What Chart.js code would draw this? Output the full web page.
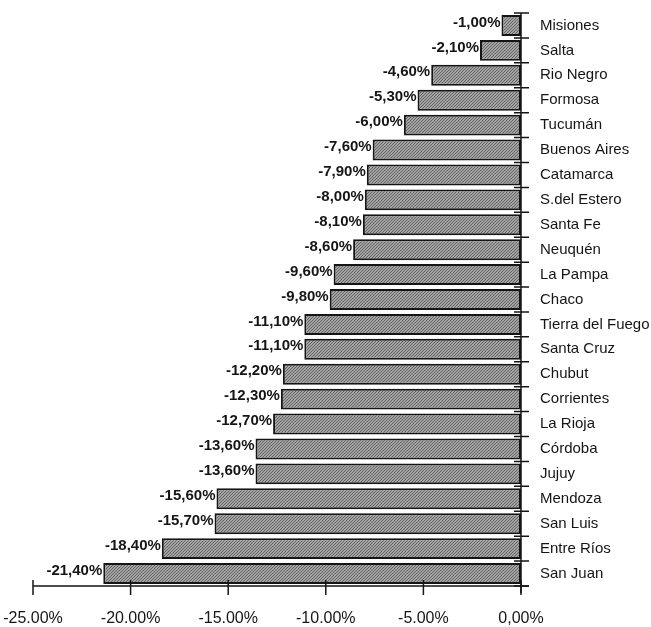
<!DOCTYPE html>
<html>
<head>
<meta charset="utf-8">
<script src="https://cdn.jsdelivr.net/npm/chart.js@4.4.0/dist/chart.umd.min.js"></script>
<style>
  html, body { margin: 0; padding: 0; background: #ffffff; }
  #wrap { width: 651px; height: 627px; position: relative; }
</style>
</head>
<body>
<div id="wrap"><canvas id="c"></canvas></div>
<script>
const provinces = ["Misiones","Salta","Rio Negro","Formosa","Tucumán","Buenos Aires","Catamarca","S.del Estero","Santa Fe","Neuquén","La Pampa","Chaco","Tierra del Fuego","Santa Cruz","Chubut","Corrientes","La Rioja","Córdoba","Jujuy","Mendoza","San Luis","Entre Ríos","San Juan"];
const changes = [-1.00,-2.10,-4.60,-5.30,-6.00,-7.60,-7.90,-8.00,-8.10,-8.60,-9.60,-9.80,-11.10,-11.10,-12.20,-12.30,-12.70,-13.60,-13.60,-15.60,-15.70,-18.40,-21.40];
const tickValues = [-25,-20,-15,-10,-5,0];
const tickLabels = ["-25.00%","-20.00%","-15.00%","-10.00%","-5.00%","0,00%"];

const FONT = "'Liberation Sans', Arial, Helvetica, sans-serif";
const INK = "#151515";

function makeHatch() {
  const p = document.createElement('canvas');
  p.width = 3; p.height = 3;
  const g = p.getContext('2d');
  g.fillStyle = '#a2a2a2';
  g.fillRect(0, 0, 3, 3);
  g.fillStyle = '#666666';
  g.fillRect(0, 2, 1, 1);
  g.fillRect(1, 1, 1, 1);
  g.fillRect(2, 0, 1, 1);
  return g.createPattern(p, 'repeat');
}

function noPad(scale) {
  scale.paddingLeft = 0; scale.paddingRight = 0;
  scale.paddingTop = 0; scale.paddingBottom = 0;
}

const decor = {
  id: 'decor',
  afterDatasetsDraw(chart) {
    const ctx = chart.ctx;
    const xs = chart.scales.x, ys = chart.scales.y;
    const area = chart.chartArea;
    const x0 = xs.getPixelForValue(0);
    const pitch = ys.getPixelForValue(1) - ys.getPixelForValue(0);
    ctx.save();
    ctx.strokeStyle = INK;
    ctx.lineWidth = 1.5;
    ctx.beginPath();
    ctx.moveTo(x0, area.top);
    ctx.lineTo(x0, area.bottom + 7);
    ctx.moveTo(xs.getPixelForValue(-25), area.bottom);
    ctx.lineTo(x0 + 8, area.bottom);
    ctx.stroke();
    ctx.beginPath();
    tickValues.forEach(v => {
      const px = xs.getPixelForValue(v);
      ctx.moveTo(px, area.bottom - 6);
      ctx.lineTo(px, area.bottom + 9);
    });
    for (let i = 0; i <= provinces.length; i++) {
      const py = ys.getPixelForValue(i) - pitch / 2;
      ctx.moveTo(x0 - 7, py);
      ctx.lineTo(x0 + 8, py);
    }
    ctx.stroke();
    const meta = chart.getDatasetMeta(0);
    ctx.fillStyle = INK;
    ctx.font = "bold 15px " + FONT;
    ctx.textAlign = 'right';
    ctx.textBaseline = 'middle';
    meta.data.forEach((bar, i) => {
      const txt = changes[i].toFixed(2).replace('.', ',') + '%';
      ctx.fillText(txt, bar.x - 1, bar.y - 3);
    });
    ctx.restore();
  }
};

new Chart(document.getElementById('c'), {
  type: 'bar',
  data: {
    labels: provinces,
    datasets: [{
      data: changes,
      backgroundColor: makeHatch(),
      borderColor: INK,
      borderWidth: 2,
      borderSkipped: false,
      categoryPercentage: 0.84,
      barPercentage: 1.0
    }]
  },
  options: {
    indexAxis: 'y',
    responsive: true,
    maintainAspectRatio: false,
    animation: false,
    layout: { padding: { top: 13, left: 33, right: 0, bottom: 0 } },
    plugins: { legend: { display: false }, tooltip: { enabled: false } },
    scales: {
      x: {
        type: 'linear',
        min: -25, max: 0,
        afterBuildTicks(scale) { scale.ticks = tickValues.map(v => ({ value: v })); },
        afterFit(scale) { scale.height = 41; noPad(scale); },
        grid: { display: false },
        border: { display: false },
        ticks: {
          color: INK,
          font: { family: FONT, size: 16 },
          padding: 15,
          maxRotation: 0,
          callback(v) { const k = tickValues.indexOf(v); return k >= 0 ? tickLabels[k] : ''; }
        }
      },
      y: {
        type: 'category',
        position: 'right',
        afterFit(scale) { scale.width = 130; noPad(scale); },
        grid: { display: false },
        border: { display: false },
        ticks: {
          color: INK,
          font: { family: FONT, size: 15 },
          padding: 11,
          crossAlign: 'near'
        }
      }
    }
  },
  plugins: [decor]
});
</script>
</body>
</html>
